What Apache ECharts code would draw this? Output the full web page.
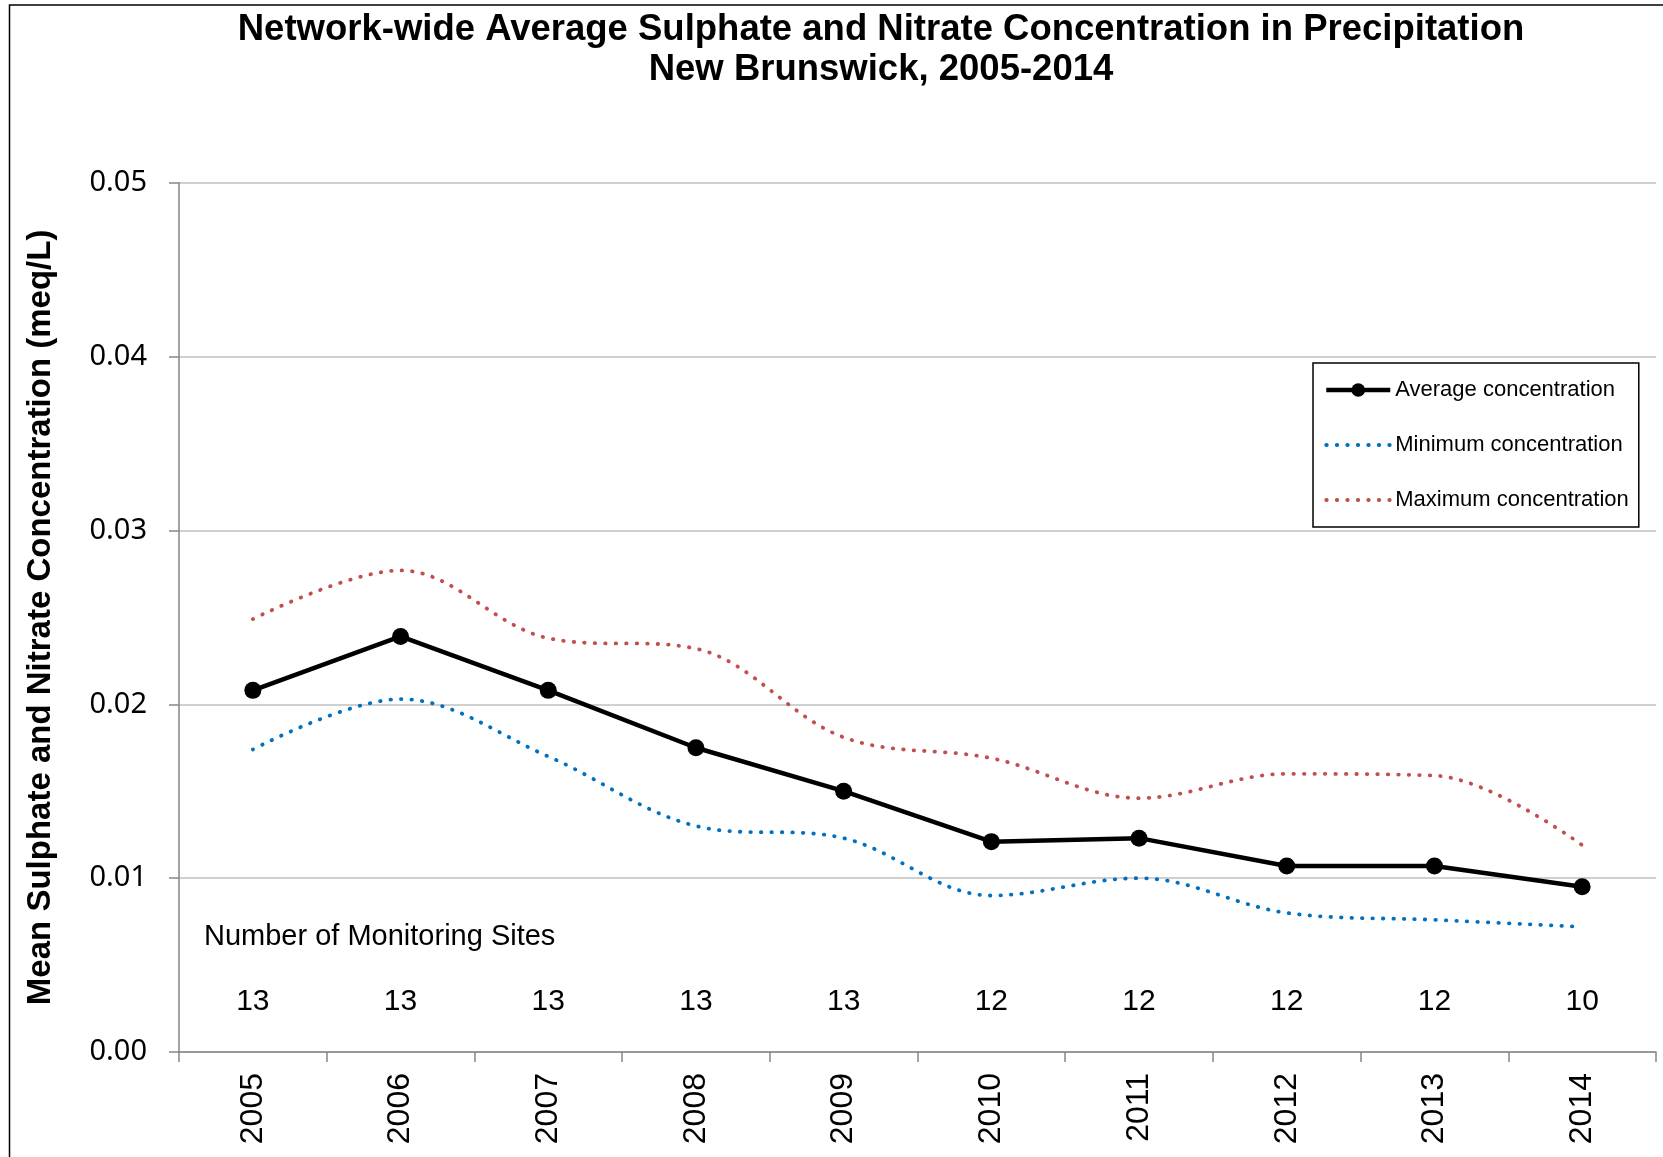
<!DOCTYPE html>
<html>
<head>
<meta charset="utf-8">
<script src="https://cdn.jsdelivr.net/npm/echarts@6/dist/echarts.min.js"></script>
<style>
	html, body { margin: 0; padding: 0; background: #fff; }
	#main { width: 1663px; height: 1157px; }
</style>
</head>
<body>
<div id="main"></div>
<script>
// years on the x axis
var years = ['2005', '2006', '2007', '2008', '2009', '2010', '2011', '2012', '2013', '2014'];
// concentration, meq/L
var average = [0.0208, 0.0239, 0.0208, 0.0175, 0.0150, 0.0121, 0.0123, 0.0107, 0.0107, 0.0095];
var minimum = [0.0174, 0.0203, 0.0170, 0.0130, 0.0123, 0.0090, 0.0100, 0.0080, 0.0076, 0.0072];
var maximum = [0.0249, 0.0277, 0.0238, 0.0232, 0.0181, 0.0169, 0.0146, 0.0160, 0.0159, 0.0119];
// number of monitoring sites per year
var sites = [13, 13, 13, 13, 13, 12, 12, 12, 12, 10];
// height at which the site counts are written
var sitesLevel = 0.0029;

var chart = echarts.init(document.getElementById('main'));

var dotted = [0.5, 10];

var sitesData = [];
for (var i = 0; i < years.length; i++) {
	sitesData.push([years[i], sitesLevel, sites[i]]);
}

var option = {
	backgroundColor: '#fff',
	animation: false,
	graphic: [
		{
			type: 'rect',
			shape: { x: 9.5, y: 5, width: 1700, height: 1200 },
			style: { fill: 'none', stroke: '#000', lineWidth: 1.5 },
			silent: true
		},
		{
			type: 'text',
			x: 881,
			y: 50,
			style: {
				text: 'Network-wide Average Sulphate and Nitrate Concentration in Precipitation\nNew Brunswick, 2005-2014',
				font: 'bold 36.5px "Liberation Sans", Arial, sans-serif',
				lineHeight: 40,
				fill: '#000',
				align: 'center',
				verticalAlign: 'middle'
			}
		},
		{
			type: 'text',
			x: 204,
			y: 937,
			style: {
				text: 'Number of Monitoring Sites',
				font: '29px "Liberation Sans", Arial, sans-serif',
				fill: '#000',
				align: 'left',
				verticalAlign: 'middle'
			}
		}
	],
	legend: {
		orient: 'vertical',
		left: 1313,
		top: 363,
		padding: [16, 10, 16, 11],
		itemGap: 33,
		itemWidth: 64,
		itemHeight: 17,
		borderColor: '#000',
		borderWidth: 1.5,
		textStyle: {
			fontFamily: '"Liberation Sans", Arial, sans-serif',
			fontSize: 22,
			lineHeight: 22,
			color: '#000'
		},
		data: [
			{ name: 'Average concentration', lineStyle: { width: 4.5 } },
			{ name: 'Minimum concentration', itemStyle: { opacity: 0 }, lineStyle: { width: 3.8, type: dotted, cap: 'round' } },
			{ name: 'Maximum concentration', itemStyle: { opacity: 0 }, lineStyle: { width: 3.8, type: dotted, cap: 'round' } }
		]
	},
	grid: {
		left: 179,
		right: 7,
		top: 182.7,
		bottom: 105
	},
	xAxis: {
		type: 'category',
		data: years,
		boundaryGap: true,
		axisLine: { lineStyle: { color: '#868686', width: 1.5 } },
		axisTick: { show: true, length: 10, alignWithLabel: false, lineStyle: { color: '#868686', width: 1.5 } },
		axisLabel: {
			rotate: 90,
			margin: 21,
			color: '#000',
			fontFamily: '"Liberation Sans", Arial, sans-serif',
			fontSize: 32
		},
		splitLine: { show: false }
	},
	yAxis: {
		type: 'value',
		min: 0,
		max: 0.05,
		interval: 0.01,
		name: 'Mean Sulphate and Nitrate Concentration (meq/L)',
		nameLocation: 'middle',
		nameRotate: 90,
		nameGap: 122,
		nameTextStyle: {
			fontFamily: '"Liberation Sans", Arial, sans-serif',
			fontWeight: 'bold',
			fontSize: 33,
			color: '#000'
		},
		axisLine: { show: true, lineStyle: { color: '#868686', width: 1.5 } },
		axisTick: { show: true, length: 10, lineStyle: { color: '#868686', width: 1.5 } },
		axisLabel: {
			margin: 32,
			color: '#000',
			fontFamily: '"Noto Sans", sans-serif',
			fontSize: 29,
			formatter: function (v) { return v.toFixed(2); }
		},
		splitLine: { show: true, lineStyle: { color: '#c0c0c0', width: 1.5 } }
	},
	series: [
		{
			name: 'Maximum concentration',
			type: 'line',
			data: maximum,
			smooth: 0.35,
			symbol: 'none',
			z: 2,
			lineStyle: { color: '#c0504d', width: 3.8, type: dotted, cap: 'round' },
			itemStyle: { color: '#c0504d' }
		},
		{
			name: 'Minimum concentration',
			type: 'line',
			data: minimum,
			smooth: 0.35,
			symbol: 'none',
			z: 2,
			lineStyle: { color: '#0070c0', width: 3.8, type: dotted, cap: 'round' },
			itemStyle: { color: '#0070c0' }
		},
		{
			name: 'Average concentration',
			type: 'line',
			data: average,
			symbol: 'circle',
			symbolSize: 17,
			z: 3,
			lineStyle: { color: '#000', width: 4.5 },
			itemStyle: { color: '#000' }
		},
		{
			name: 'sites',
			type: 'scatter',
			data: sitesData,
			symbolSize: 0,
			silent: true,
			itemStyle: { color: '#000' },
			label: {
				show: true,
				position: 'inside',
				color: '#000',
				opacity: 1,
				textBorderWidth: 0,
				fontFamily: '"Liberation Sans", Arial, sans-serif',
				fontSize: 30,
				formatter: function (p) { return String(p.data[2]); }
			}
		}
	]
};

chart.setOption(option);
</script>
</body>
</html>
